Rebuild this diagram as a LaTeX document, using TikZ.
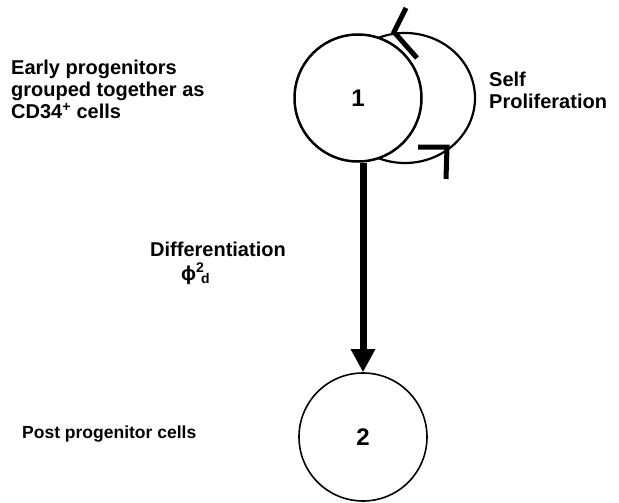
\documentclass[tikz,border=0pt]{standalone}
\usepackage{fontspec}
\setmainfont{Liberation Sans}
\usetikzlibrary{arrows.meta}

\tikzset{
  cell/.style={circle, draw=black, fill=white, line width=#1, minimum size=127pt, inner sep=0pt},
  cell/.default=2pt,
  num/.style={font=\bfseries\fontsize{24}{24}\selectfont, inner sep=0pt},
  label/.style={font=\bfseries\fontsize{20}{22}\selectfont, inner sep=0pt, align=left},
  chevron/.style={line width=5pt, line cap=butt, line join=miter},
  shaft/.style={line width=7pt, -{Triangle[length=23pt,width=23pt]}}
}

\begin{document}
\begin{tikzpicture}[x=1pt, y=-1pt]
  \useasboundingbox (0,0) rectangle (619,503);

  % self-proliferation loop behind the first cell
  \draw[line width=2.2pt] (405,98) ellipse [x radius=70, y radius=65];

  % cells
  \node[cell=2.5pt] (c1) at (358,98) {};
  \node[num] (n1) at (c1) {1};
  \node[cell=1.6pt, minimum size=128pt] (c2) at (363,437) {};
  \node[num] (n2) at (c2) {2};

  % differentiation arrow
  \draw[shaft] (c1.south -| c2.north) -- (c2.north);

  % arrowheads on the loop
  \coordinate (ta) at (394,32);
  \draw[chevron] (406,8) -- (ta) -- (417,58);
  \coordinate (tb) at (447,147);
  \draw[chevron] (418,147) -- (tb) -- (446,179);

  % labels
  \node[label, anchor=north west] (early) at (11,60)
    {Early progenitors\\grouped together as\\CD34\textsuperscript{+} cells};
  \node[label, anchor=north west] (self) at (489,72) {Self\\Proliferation};
  \node[label, anchor=base west] (diff) at (150,256) {Differentiation};
  \node[label, anchor=base west] (phi) at (181,280)
    {ϕ\rlap{\raisebox{8pt}{\fontsize{14}{14}\selectfont 2}}\hspace{5pt}\raisebox{-3pt}{\fontsize{14}{14}\selectfont d}};
  \node[label, font=\bfseries\fontsize{17.5}{20}\selectfont, anchor=base west] (post) at (22,438)
    {Post progenitor cells};
\end{tikzpicture}
\end{document}
